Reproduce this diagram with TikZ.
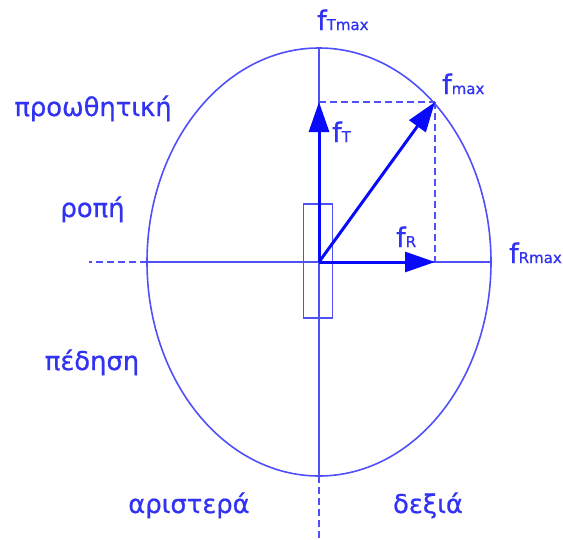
\documentclass[tikz,border=0pt]{standalone}
\usepackage{fontspec}
\setmainfont[FakeBold=0.8]{DejaVu Sans}
\usetikzlibrary{arrows.meta}
\definecolor{lblue}{RGB}{80,80,250}
\definecolor{tblue}{RGB}{50,50,242}
\definecolor{ablue}{RGB}{10,10,250}
\tikzset{
  axis/.style={draw=lblue, line width=1.6pt},
  dashline/.style={draw=lblue, line width=1.6pt, dash pattern=on 7pt off 4pt},
  vec/.style={draw=ablue, line width=3pt, -{Triangle[length=30pt,width=20pt]}},
  lab/.style={text=tblue, font=\fontsize{25.8}{28}\selectfont, inner sep=0pt, anchor=base},
  flab/.style={text=tblue, font=\fontsize{27}{28}\selectfont, inner sep=0pt, anchor=base west},
}
\newcommand{\fsub}[1]{f{\fontsize{15}{16}\selectfont #1}}
\begin{document}
\begin{tikzpicture}[x=1pt,y=-1pt]
\useasboundingbox (0,0) rectangle (563,539);
\coordinate (O) at (319,262);
\coordinate (T) at (319,48);
\coordinate (B) at (319,476);
\coordinate (Bend) at (319,539);
\coordinate (L) at (147,262);
\coordinate (Lend) at (89,262);
\coordinate (R) at (491,262);
\coordinate (FT) at (319,102);
\coordinate (FR) at (435,262);
\coordinate (FM) at (435,102);
% ellipse
\draw[axis] (O) ellipse [x radius=172, y radius=214];
% axes
\draw[axis] (T) -- (B);
\draw[dashline] (B) -- (Bend);
\draw[axis] (L) -- (R);
\draw[dashline] (L) -- (Lend);
% rectangle
\node[draw=lblue, line width=1.6pt, minimum width=29pt, minimum height=114pt, inner sep=0pt] (box) at (318,261) {};
% dashed projections
\draw[dashline] (FT) -- (FM);
\draw[dashline] (FM) -- (FR);
% vectors
\draw[vec] (O) -- (FT);
\draw[vec] (O) -- (FR);
\draw[vec] (O) -- (FM);
% labels
\node[flab] (lTmax) at (317,30) {\fsub{Tmax}};
\node[flab] (lmax) at (442,94) {\fsub{max}};
\node[flab] (lT) at (332,142) {\fsub{T}};
\node[flab] (lR) at (396,247) {\fsub{R}};
\node[flab] (lRmax) at (509,263) {\fsub{Rmax}};
\node[lab] (l1) at (93,116) {προωθητική};
\node[lab] (l2) at (92.5,217) {ροπή};
\node[lab] (l3) at (92,370) {πέδηση};
\node[lab] (l4) at (189,513) {αριστερά};
\node[lab] (l5) at (428,513) {δεξιά};
\end{tikzpicture}
\end{document}
